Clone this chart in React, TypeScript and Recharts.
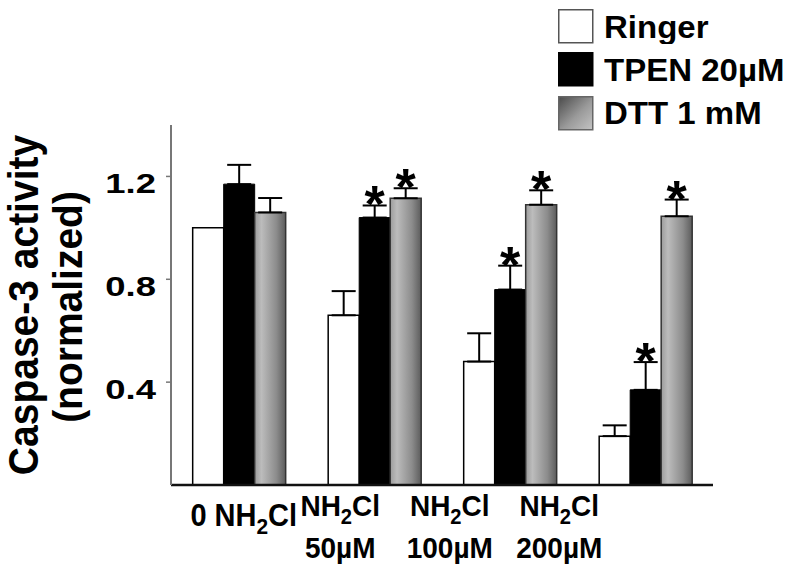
import React from 'react';
import { BarChart, Bar, XAxis, YAxis, ErrorBar, LabelList } from 'recharts';

const categories = ['0 NH₂Cl', 'NH₂Cl\n50µM', 'NH₂Cl\n100µM', 'NH₂Cl\n200µM'];
const ringer = [1.0, 0.66, 0.48, 0.19];
const tpen = [1.17, 1.04, 0.76, 0.37];
const dtt = [1.06, 1.115, 1.09, 1.045];
const ringerErr = [null, 0.094, 0.11, 0.042];
const tpenErr = [0.075, 0.047, 0.093, 0.108];
const dttErr = [0.056, 0.039, 0.056, 0.065];
const tpenSig = [false, true, true, true];
const dttSig = [false, true, true, true];
const yTicks = [0.4, 0.8, 1.2];

// labels sit left of their bar groups in the original figure
const labelShift = [5, -34, -60, -86];

const FONT = '"Liberation Sans", Arial, Helvetica, sans-serif';

const data = categories.map((name, i) => ({
  name,
  ringer: ringer[i],
  tpen: tpen[i],
  dtt: dtt[i],
  ringerErr: ringerErr[i] == null ? null : [0, ringerErr[i]],
  tpenErr: [0, tpenErr[i]],
  dttErr: [0, dttErr[i]],
}));

const chem = (s: string, size: number) => {
  const parts = s.split('₂');
  const out: React.ReactNode[] = [];
  parts.forEach((p, k) => {
    if (k > 0) {
      out.push(<tspan key={`s${k}`} dy={7} fontSize={size * 0.72}>2</tspan>);
      out.push(<tspan key={`p${k}`} dy={-7} fontSize={size}>{p}</tspan>);
    } else {
      out.push(<tspan key={`p${k}`}>{p}</tspan>);
    }
  });
  return out;
};

const XTick = (props: any) => {
  const { x, y, payload } = props;
  const i = payload.index;
  const lines = String(payload.value).split('\n');
  const cx = x + labelShift[i];
  const first = lines.length === 1 ? y + 41 : y + 31;
  const size = lines.length === 1 ? 29 : 28;
  return (
    <g>
      {lines.map((ln, k) => (
        <text
          key={k}
          transform={`translate(${cx},${first + k * 42}) scale(1,1.08)`}
          textAnchor="middle"
          fontFamily={FONT}
          fontWeight="bold"
          fontSize={size}
          fill="#000"
        >
          {chem(ln, size)}
        </text>
      ))}
    </g>
  );
};

const YTick = (props: any) => {
  const { x, y, payload } = props;
  return (
    <text
      transform={`translate(${x - 8},${y + 17}) scale(1.35,1)`}
      textAnchor="end"
      fontFamily={FONT}
      fontWeight="bold"
      fontSize={27}
      fill="#000"
    >
      {Number(payload.value).toFixed(1)}
    </text>
  );
};

const YLabel = (props: any) => {
  const { viewBox } = props;
  const cy = viewBox.y + viewBox.height / 2;
  return (
    <g fontFamily={FONT} fontWeight="bold" fill="#000">
      <text transform={`translate(38,${cy}) rotate(-90) scale(1,1.08)`} textAnchor="middle" fontSize={39}>
        Caspase-3 activity
      </text>
      <text transform={`translate(82,${cy + 2}) rotate(-90) scale(1,1.05)`} textAnchor="middle" fontSize={39}>
        (normalized)
      </text>
    </g>
  );
};

const star = (errs: number[], sig: boolean[]) => (props: any) => {
  const { x, y, width, height, value, index } = props;
  if (!sig[index]) return null;
  const capY = y - (height / value) * errs[index];
  return (
    <text x={x + width / 2} y={capY + 17} textAnchor="middle" fontFamily={FONT} fontWeight="bold" fontSize={52} fill="#000">
      *
    </text>
  );
};

const legendItems = [
  { label: 'Ringer', fill: '#fff', border: '#555' },
  { label: 'TPEN 20µM', fill: '#000', border: '#000' },
  { label: 'DTT 1 mM', fill: 'url(#dttSwatch)', border: '#666' },
];

const ChartLegend = () => (
  <div style={{ position: 'absolute', left: 558, top: 5, fontFamily: FONT, fontWeight: 'bold', fontSize: 30 }}>
    {legendItems.map((it) => (
      <div key={it.label} style={{ display: 'flex', alignItems: 'center', height: 43.3 }}>
        <svg width={36} height={35} style={{ display: 'block' }}>
          <defs>
            <linearGradient id="dttSwatch" x1="0" y1="0" x2="1" y2="1">
              <stop offset="0%" stopColor="#4a4a4a" />
              <stop offset="55%" stopColor="#9a9a9a" />
              <stop offset="100%" stopColor="#c4c4c4" />
            </linearGradient>
          </defs>
          <rect x={0.75} y={0.75} width={34} height={33} fill={it.fill} stroke={it.border} strokeWidth={1.5} />
        </svg>
        <span style={{ marginLeft: 10, display: 'inline-block', transform: 'scale(1.1,1.05)', transformOrigin: 'left center', whiteSpace: 'nowrap' }}>
          {it.label}
        </span>
      </div>
    ))}
  </div>
);

export default function App() {
  return (
    <div style={{ position: 'absolute', left: 0, top: 0, width: 800, height: 577, background: '#fff' }}>
      <BarChart
        width={800}
        height={577}
        data={data}
        margin={{ top: 125, right: 87, left: 0, bottom: 0 }}
        barGap={0}
        barCategoryGap="16%"
      >
        <defs>
          <linearGradient id="dttBar" x1="0" y1="0" x2="1" y2="0">
            <stop offset="0%" stopColor="#9c9c9c" />
            <stop offset="22%" stopColor="#bcbcbc" />
            <stop offset="70%" stopColor="#8c8c8c" />
            <stop offset="100%" stopColor="#5c5c5c" />
          </linearGradient>
        </defs>
        <XAxis
          dataKey="name"
          height={92}
          tickLine={false}
          tickSize={0}
          tickMargin={0}
          axisLine={{ stroke: '#111', strokeWidth: 2.5 }}
          tick={<XTick />}
          interval={0}
        />
        <YAxis
          width={171}
          domain={[0, 1.4]}
          ticks={yTicks}
          tickSize={5}
          tickLine={{ stroke: '#777', strokeWidth: 1.5 }}
          axisLine={{ stroke: '#777', strokeWidth: 2 }}
          tick={<YTick />}
          label={{ content: <YLabel /> }}
        />
        <Bar dataKey="ringer" name="Ringer" fill="#fff" stroke="#000" strokeWidth={1.5} isAnimationActive={false}>
          <ErrorBar dataKey="ringerErr" direction="y" width={12} stroke="#000" strokeWidth={2} />
        </Bar>
        <Bar dataKey="tpen" name="TPEN 20µM" fill="#000" stroke="#000" strokeWidth={1} isAnimationActive={false}>
          <ErrorBar dataKey="tpenErr" direction="y" width={12} stroke="#000" strokeWidth={2} />
          <LabelList dataKey="tpen" content={star(tpenErr, tpenSig)} />
        </Bar>
        <Bar dataKey="dtt" name="DTT 1 mM" fill="url(#dttBar)" stroke="#333" strokeWidth={1.5} isAnimationActive={false}>
          <ErrorBar dataKey="dttErr" direction="y" width={12} stroke="#000" strokeWidth={2} />
          <LabelList dataKey="dtt" content={star(dttErr, dttSig)} />
        </Bar>
      </BarChart>
      <ChartLegend />
    </div>
  );
}
